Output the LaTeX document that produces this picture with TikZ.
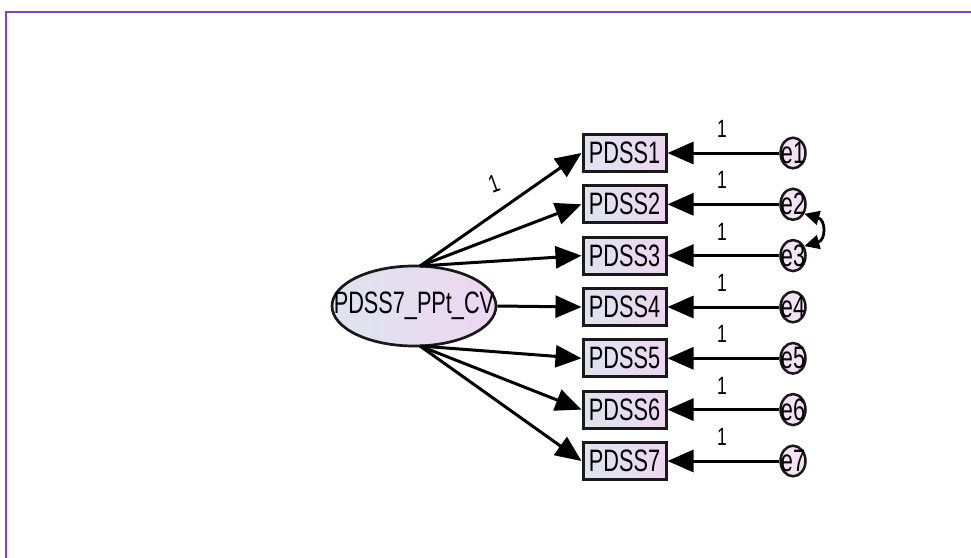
\documentclass[tikz,border=0pt]{standalone}
\usepackage{fontspec}
\setmainfont{Liberation Sans}[FakeStretch=0.7]
\usetikzlibrary{arrows.meta,shapes.geometric}
\definecolor{frame}{RGB}{125,70,185}
\definecolor{fillL}{RGB}{222,228,240}
\definecolor{fillR}{RGB}{238,214,240}
\tikzset{
  obsbox/.style={draw=black!90, line width=3pt, left color=fillL, right color=fillR,
    minimum width=83pt, minimum height=37pt, inner sep=0pt,
    font=\fontsize{31}{31}\selectfont},
  latent/.style={ellipse, draw=black!90, line width=2.7pt, left color=fillL, right color=fillR,
    minimum width=164pt, minimum height=80pt, inner sep=0pt,
    font=\fontsize{31}{31}\selectfont},
  errc/.style={ellipse, draw=black!90, line width=2.5pt, fill=fillR!70!white,
    minimum width=25pt, minimum height=29pt, inner sep=0pt,
    font=\fontsize{31}{31}\selectfont},
  path/.style={line width=3pt, -{Triangle[length=26pt,width=22pt]}},
  cov/.style={line width=2.8pt, {Triangle[length=15pt,width=14pt]}-{Triangle[length=15pt,width=14pt]}},
  wlabel/.style={font=\fontsize{25}{25}\selectfont, inner sep=0pt}
}
\begin{document}
\begin{tikzpicture}[x=1pt,y=-1pt]
  \path[use as bounding box] (0,0) rectangle (971,557);
  \clip (0,0) rectangle (971,557);
  % outer frame
  \draw[frame, line width=2.5pt] (6,12) rectangle (990,580);

  % latent factor (text boxed to zero width so the ellipse keeps its size)
  \node[latent] (F) at (414,306) {\makebox[0pt]{PDSS7\_PPt\_CV}};
  \coordinate (Ftop) at (420,266);
  \coordinate (Fbot) at (420,346);

  % indicators, error terms and paths
  \foreach \i/\y in {1/153,2/204.3,3/255.6,4/307,5/358.3,6/409.6,7/461}{
    \node[obsbox] (P\i) at (624.5,\y) {PDSS\i};
    \node[errc] (e\i) at (793,\y) {\makebox[0pt]{e\i}};
    \draw[path] (e\i) -- (P\i);
    \node[wlabel] (w\i) at (722,\y-24) {1};
  }

  % loadings
  \draw[path] (Ftop) -- (P1.west);
  \draw[path] (Ftop) -- (P2.west);
  \draw[path] (Ftop) -- (P3.west);
  \draw[path] (F.east) -- (P4.west);
  \draw[path] (Fbot) -- (P5.west);
  \draw[path] (Fbot) -- (P6.west);
  \draw[path] (Fbot) -- (P7.west);
  \node[wlabel, rotate=20] (w0) at (494,184) {1};

  % error covariance e2 <-> e3
  \draw[cov] (e2.-40) .. controls (826,220) and (826,240) .. (e3.40);
\end{tikzpicture}
\end{document}
